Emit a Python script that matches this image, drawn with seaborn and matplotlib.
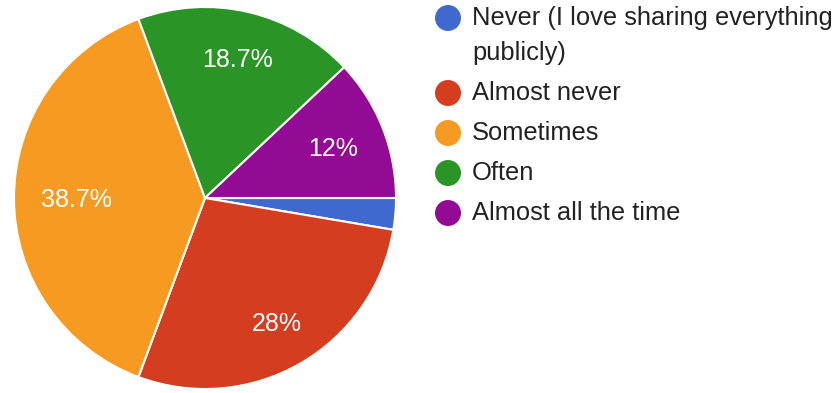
import math
import textwrap

import matplotlib
matplotlib.use("Agg")
import matplotlib.pyplot as plt
import seaborn as sns

# Survey answers and response counts (75 responses in total)
categories = [
    "Never (I love sharing everything publicly)",
    "Almost never",
    "Sometimes",
    "Often",
    "Almost all the time",
]
counts = [2, 21, 29, 14, 9]
slice_colors = ["#4069cf", "#d53d20", "#f79a21", "#2a9427", "#930b94"]

sns.set_theme(style="white")
plt.rcParams["font.family"] = ["Liberation Sans", "DejaVu Sans"]

W, H, DPI = 837, 393, 100
fig = plt.figure(figsize=(W / DPI, H / DPI), dpi=DPI)

# Pie occupies a square on the left: centre (205, 198) px, radius 191 px
cx, cy, r = 205, 198, 191
ax = fig.add_axes([(cx - r) / W, (H - cy - r) / H, 2 * r / W, 2 * r / H])

LABEL_PT = 18


def pct_label(p):
    if p < 5:
        return ""
    s = f"{p:.1f}"
    if s.endswith(".0"):
        s = s[:-2]
    return s + "%"


wedges, texts, autotexts = ax.pie(
    counts,
    colors=slice_colors,
    startangle=0,
    counterclock=False,
    autopct=pct_label,
    pctdistance=0.72,
    wedgeprops=dict(edgecolor="white", linewidth=1.5),
    textprops=dict(color="white", fontsize=LABEL_PT),
)
ax.set_xlim(-1.0, 1.0)
ax.set_ylim(-1.0, 1.0)
ax.set_aspect("equal")
ax.axis("off")

# Place each percentage so the outer corner of its text box sits at a
# fixed fraction of the radius (labels hug the rim evenly).
fig.canvas.draw()
renderer = fig.canvas.get_renderer()
px_per_unit = r  # data unit -> pixels
cap_h = LABEL_PT * DPI / 72 * 0.716 / px_per_unit
rim = 0.86
for w, t in zip(wedges, autotexts):
    if not t.get_text():
        continue
    theta = math.radians((w.theta1 + w.theta2) / 2)
    c, s = math.cos(theta), math.sin(theta)
    bb = t.get_window_extent(renderer)
    half_w = bb.width / 2 / px_per_unit
    half_h = cap_h / 2
    a = math.copysign(half_w, c)
    b = math.copysign(half_h, s)
    p = c * a + s * b
    d = -p + math.sqrt(p * p - (a * a + b * b - rim * rim))
    t.set_position((d * c, d * s - half_h))
    t.set_verticalalignment("baseline")
    t.set_horizontalalignment("center")

# Legend drawn in pixel coordinates on an overlay axes
lax = fig.add_axes([0, 0, 1, 1])
lax.set_xlim(0, W)
lax.set_ylim(H, 0)
lax.axis("off")

y = 18
for label, color in zip(categories, slice_colors):
    lines = textwrap.wrap(label, width=32)
    lax.scatter([448], [y], s=350, color=color, edgecolors="none")
    for k, line in enumerate(lines):
        lax.text(472, y + 35 * k, line, fontsize=18.4, color="#222222",
                 va="center", ha="left")
    y += 40 + 35 * (len(lines) - 1)

fig.savefig("out.png", dpi=DPI, facecolor="white")
